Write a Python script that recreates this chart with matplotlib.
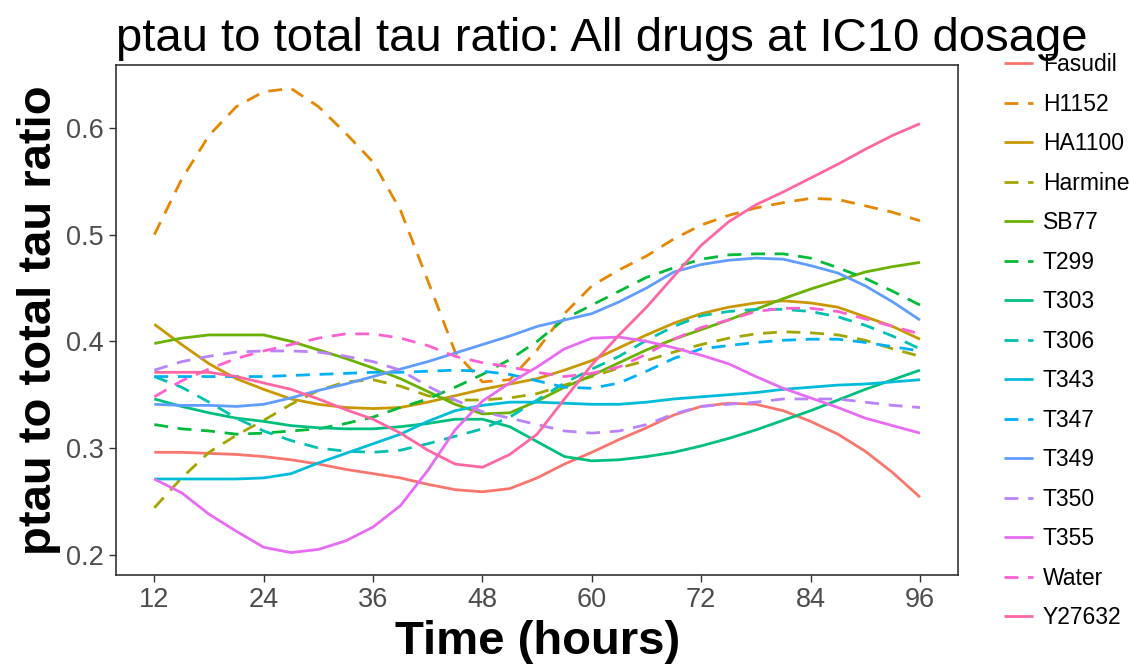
import numpy as np
import matplotlib
matplotlib.use("Agg")
import matplotlib.pyplot as plt

plt.rcParams["font.family"] = ["Liberation Sans", "DejaVu Sans"]

hours = [12, 15, 18, 21, 24, 27, 30, 33, 36, 39, 42, 45, 48, 51, 54,
         57, 60, 63, 66, 69, 72, 75, 78, 81, 84, 87, 90, 93, 96]

fasudil = [0.296, 0.296, 0.295, 0.294, 0.292, 0.289, 0.285, 0.280, 0.276, 0.272, 0.266, 0.261, 0.259, 0.262, 0.272,
           0.285, 0.296, 0.308, 0.319, 0.331, 0.339, 0.342, 0.341, 0.335, 0.325, 0.313, 0.297, 0.277, 0.254]
h1152 = [0.500, 0.552, 0.593, 0.620, 0.634, 0.637, 0.620, 0.595, 0.568, 0.523, 0.457, 0.390, 0.362, 0.364, 0.392,
         0.426, 0.452, 0.467, 0.480, 0.496, 0.509, 0.518, 0.525, 0.530, 0.534, 0.533, 0.527, 0.521, 0.513]
ha1100 = [0.416, 0.397, 0.379, 0.365, 0.355, 0.346, 0.341, 0.338, 0.337, 0.338, 0.343, 0.349, 0.355, 0.360, 0.365,
          0.373, 0.382, 0.394, 0.406, 0.417, 0.426, 0.432, 0.436, 0.438, 0.436, 0.432, 0.423, 0.414, 0.402]
harmine = [0.244, 0.272, 0.296, 0.312, 0.326, 0.341, 0.354, 0.362, 0.364, 0.358, 0.349, 0.345, 0.345, 0.347, 0.351,
           0.359, 0.367, 0.375, 0.382, 0.390, 0.397, 0.403, 0.407, 0.409, 0.408, 0.406, 0.401, 0.393, 0.386]
sb77 = [0.398, 0.403, 0.406, 0.406, 0.406, 0.400, 0.392, 0.384, 0.375, 0.365, 0.353, 0.341, 0.332, 0.333, 0.344,
        0.357, 0.368, 0.380, 0.392, 0.402, 0.411, 0.420, 0.430, 0.440, 0.449, 0.457, 0.465, 0.470, 0.474]
t299 = [0.322, 0.318, 0.316, 0.313, 0.314, 0.316, 0.318, 0.323, 0.329, 0.338, 0.346, 0.357, 0.369, 0.383, 0.400,
        0.421, 0.434, 0.447, 0.460, 0.469, 0.477, 0.481, 0.482, 0.482, 0.478, 0.469, 0.459, 0.447, 0.434]
t303 = [0.346, 0.339, 0.333, 0.328, 0.325, 0.321, 0.319, 0.318, 0.318, 0.320, 0.323, 0.327, 0.327, 0.320, 0.306,
        0.292, 0.288, 0.289, 0.292, 0.296, 0.302, 0.309, 0.317, 0.326, 0.335, 0.345, 0.355, 0.364, 0.373]
t306 = [0.367, 0.357, 0.343, 0.328, 0.316, 0.307, 0.300, 0.297, 0.296, 0.298, 0.304, 0.311, 0.318, 0.329, 0.345,
        0.361, 0.374, 0.386, 0.401, 0.414, 0.424, 0.428, 0.430, 0.430, 0.428, 0.423, 0.415, 0.405, 0.393]
t343 = [0.271, 0.271, 0.271, 0.271, 0.272, 0.276, 0.286, 0.295, 0.304, 0.313, 0.325, 0.335, 0.340, 0.343, 0.343,
        0.342, 0.341, 0.341, 0.343, 0.346, 0.348, 0.350, 0.352, 0.355, 0.357, 0.359, 0.360, 0.362, 0.364]
t347 = [0.367, 0.367, 0.367, 0.367, 0.367, 0.368, 0.369, 0.370, 0.371, 0.371, 0.372, 0.373, 0.372, 0.369, 0.363,
        0.357, 0.356, 0.361, 0.372, 0.384, 0.393, 0.396, 0.399, 0.401, 0.402, 0.402, 0.399, 0.395, 0.391]
t349 = [0.341, 0.340, 0.340, 0.339, 0.341, 0.347, 0.354, 0.360, 0.367, 0.374, 0.381, 0.389, 0.397, 0.405, 0.414,
        0.420, 0.426, 0.437, 0.450, 0.465, 0.472, 0.476, 0.478, 0.477, 0.471, 0.464, 0.452, 0.437, 0.420]
t350 = [0.373, 0.381, 0.386, 0.390, 0.391, 0.391, 0.390, 0.386, 0.381, 0.373, 0.358, 0.345, 0.334, 0.328, 0.322,
        0.316, 0.314, 0.316, 0.322, 0.332, 0.339, 0.341, 0.343, 0.346, 0.346, 0.346, 0.343, 0.340, 0.338]
t355 = [0.271, 0.258, 0.238, 0.222, 0.207, 0.202, 0.205, 0.213, 0.226, 0.246, 0.279, 0.317, 0.344, 0.361, 0.376,
        0.393, 0.403, 0.404, 0.400, 0.394, 0.387, 0.379, 0.367, 0.356, 0.347, 0.338, 0.328, 0.321, 0.314]
water = [0.348, 0.363, 0.374, 0.384, 0.391, 0.397, 0.403, 0.407, 0.407, 0.403, 0.396, 0.386, 0.380, 0.376, 0.371,
         0.367, 0.370, 0.376, 0.388, 0.402, 0.413, 0.420, 0.428, 0.431, 0.431, 0.428, 0.421, 0.414, 0.407]
y27632 = [0.371, 0.371, 0.371, 0.367, 0.361, 0.355, 0.346, 0.336, 0.327, 0.314, 0.298, 0.285, 0.282, 0.294, 0.313,
          0.346, 0.378, 0.406, 0.432, 0.461, 0.490, 0.512, 0.528, 0.540, 0.553, 0.566, 0.580, 0.593, 0.604]

drugs = ["Fasudil", "H1152", "HA1100", "Harmine", "SB77", "T299", "T303", "T306",
         "T343", "T347", "T349", "T350", "T355", "Water", "Y27632"]
series = [fasudil, h1152, ha1100, harmine, sb77, t299, t303, t306,
          t343, t347, t349, t350, t355, water, y27632]
colors = ["#F8766D", "#E58700", "#C99800", "#A3A500", "#6BB100", "#00BA38", "#00BF7D", "#00C0AF",
          "#00BCD8", "#00B0F6", "#619CFF", "#B983FF", "#E76BF3", "#FD61D1", "#FF67A4"]

fig = plt.figure(figsize=(11.3, 6.68), dpi=100)
ax = fig.add_axes([0.1027, 0.1392, 0.7453, 0.7635])

for i, (name, vals) in enumerate(zip(drugs, series)):
    line, = ax.plot(hours, vals, color=colors[i], lw=2.0, label=name,
                    solid_capstyle="butt", dash_capstyle="butt")
    if i % 2 == 1:
        line.set_dashes([5, 3.5])

ax.set_xlim(7.8, 100.2)
ax.set_ylim(0.181, 0.659)
ax.set_xticks([12, 24, 36, 48, 60, 72, 84, 96])
ax.set_yticks([0.2, 0.3, 0.4, 0.5, 0.6])
ax.set_yticklabels(["0.2", "0.3", "0.4", "0.5", "0.6"])
ax.tick_params(axis="both", colors="#333333", labelcolor="#4D4D4D", labelsize=19.5,
               length=5.2, width=1.0, direction="out", pad=3.5)
for sp in ax.spines.values():
    sp.set_color("#333333")
    sp.set_linewidth(1.2)

ax.set_title("ptau to total tau ratio: All drugs at IC10 dosage", fontsize=34, pad=10, loc="left")
ax.set_xlabel("Time (hours)", fontsize=34, fontweight="bold", labelpad=5)
ax.set_ylabel("ptau to total tau ratio", fontsize=34, fontweight="bold", labelpad=4)

fig.legend(loc="upper left", bbox_to_anchor=(0.878, 0.9375), frameon=False, fontsize=16.5,
           handlelength=1.27, handletextpad=0.44, labelspacing=0.72, borderpad=0)

fig.savefig("out.png", dpi=100)
